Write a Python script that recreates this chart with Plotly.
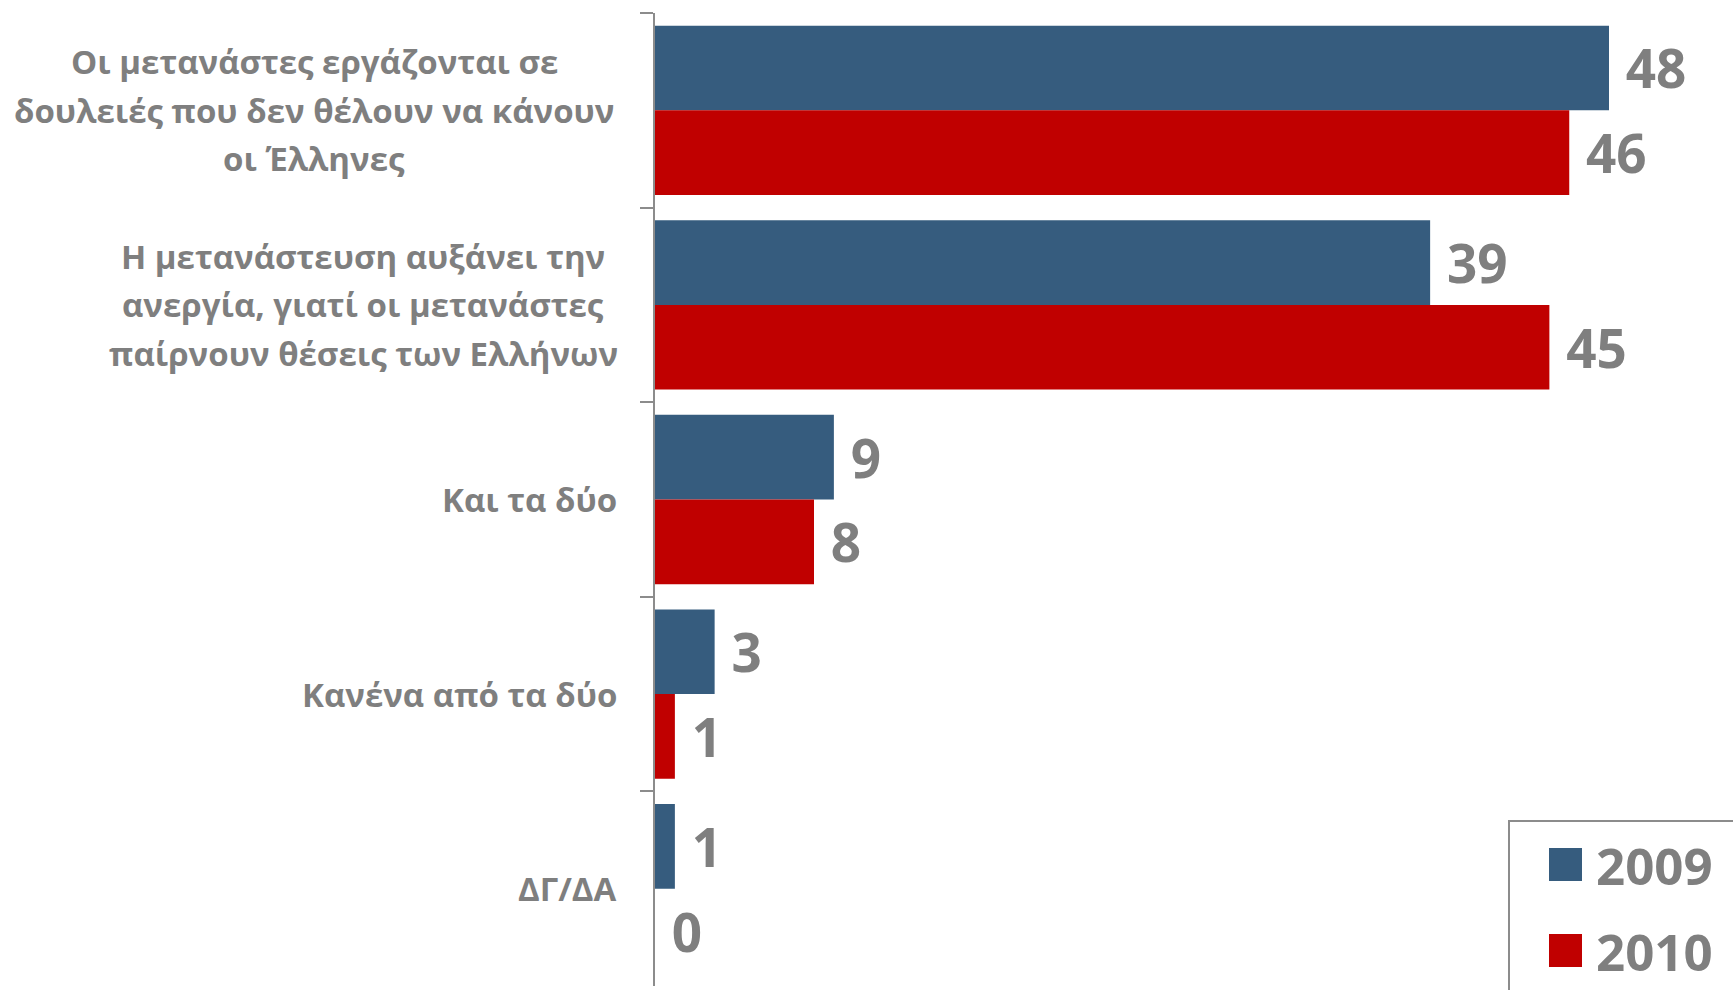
import plotly.graph_objects as go

categories = [
    "Οι μετανάστες εργάζονται σε<br>δουλειές που δεν θέλουν να κάνουν<br>οι Έλληνες",
    "Η μετανάστευση αυξάνει την<br>ανεργία, γιατί οι μετανάστες<br>παίρνουν θέσεις των Ελλήνων",
    "Και τα δύο",
    "Κανένα από τα δύο",
    "ΔΓ/ΔΑ",
]
series_names = ["2009", "2010"]
values_2009 = [48, 39, 9, 3, 1]
values_2010 = [46, 45, 8, 1, 0]
colors = ["#365C7E", "#C00000"]

# horizontal centre of each multi-line label block, px left of the axis
block_centre = [341, 292, None, None, None]

W, H = 1733, 990
L, R, T, B = 655, 0, 13, 4
PW, PH = W - L - R, H - T - B
GREY = "#7F7F7F"
FONT = "Open Sans"
LINE_H = 48.6

def px(x):
    return (x - L) / PW

def py(y):
    return (H - B - y) / PH

fig = go.Figure()
for name, vals, col in zip(series_names, [values_2009, values_2010], colors):
    fig.add_trace(go.Bar(
        y=categories, x=vals, name=name, orientation="h",
        marker=dict(color=col, line=dict(width=0)),
        text=vals, texttemplate="\u00a0%{x}", textposition="outside",
        textfont=dict(family=FONT, size=53, color=GREY, weight=700),
        constraintext="none", cliponaxis=False,
    ))

annotations = []
for c, bc in zip(categories, block_centre):
    lines = c.split("<br>")
    n = len(lines)
    for k, ln in enumerate(lines):
        off = (k - (n - 1) / 2) * LINE_H
        if n > 1:
            annotations.append(dict(
                x=0, xref="paper", y=c, yref="y", xanchor="center", yanchor="middle",
                xshift=-bc, yshift=-off, text=ln, showarrow=False,
                font=dict(family=FONT, size=33, color=GREY, weight=700)))
        else:
            annotations.append(dict(
                x=0, xref="paper", y=c, yref="y", xanchor="right", yanchor="middle",
                xshift=-36, text=ln, showarrow=False,
                font=dict(family=FONT, size=33, color=GREY, weight=700)))

shapes = [dict(type="rect", xref="paper", yref="paper",
               x0=px(1509), x1=px(1760), y0=py(821), y1=py(1010),
               line=dict(color="#8C8C8C", width=2), fillcolor="white")]
leg_y = [864.5, 950.5]
for name, col, yc in zip(series_names, colors, leg_y):
    shapes.append(dict(type="rect", xref="paper", yref="paper",
                       x0=px(1549), x1=px(1582), y0=py(yc - 16.5), y1=py(yc + 16.5),
                       line=dict(width=0), fillcolor=col))
    annotations.append(dict(x=px(1594), y=py(yc), xref="paper", yref="paper",
                            xanchor="left", yanchor="middle", text=name, showarrow=False,
                            font=dict(family=FONT, size=51, color=GREY, weight=700)))

fig.update_layout(
    width=W, height=H, margin=dict(l=L, r=R, t=T, b=B),
    barmode="group", bargap=0.13, bargroupgap=0,
    plot_bgcolor="white", paper_bgcolor="white",
    showlegend=False,
    xaxis=dict(range=[0, PW / 19.875], visible=False, fixedrange=True),
    yaxis=dict(autorange="reversed", showticklabels=False, showline=True,
               linecolor="#8C8C8C", linewidth=2, ticks="outside", tickson="boundaries",
               ticklen=13, tickwidth=2, tickcolor="#8C8C8C", showgrid=False,
               zeroline=False, fixedrange=True),
    annotations=annotations, shapes=shapes,
)
fig.write_html("out.html", config={"displayModeBar": False},
               post_script="document.body.style.margin='0';document.body.style.overflow='hidden';")
